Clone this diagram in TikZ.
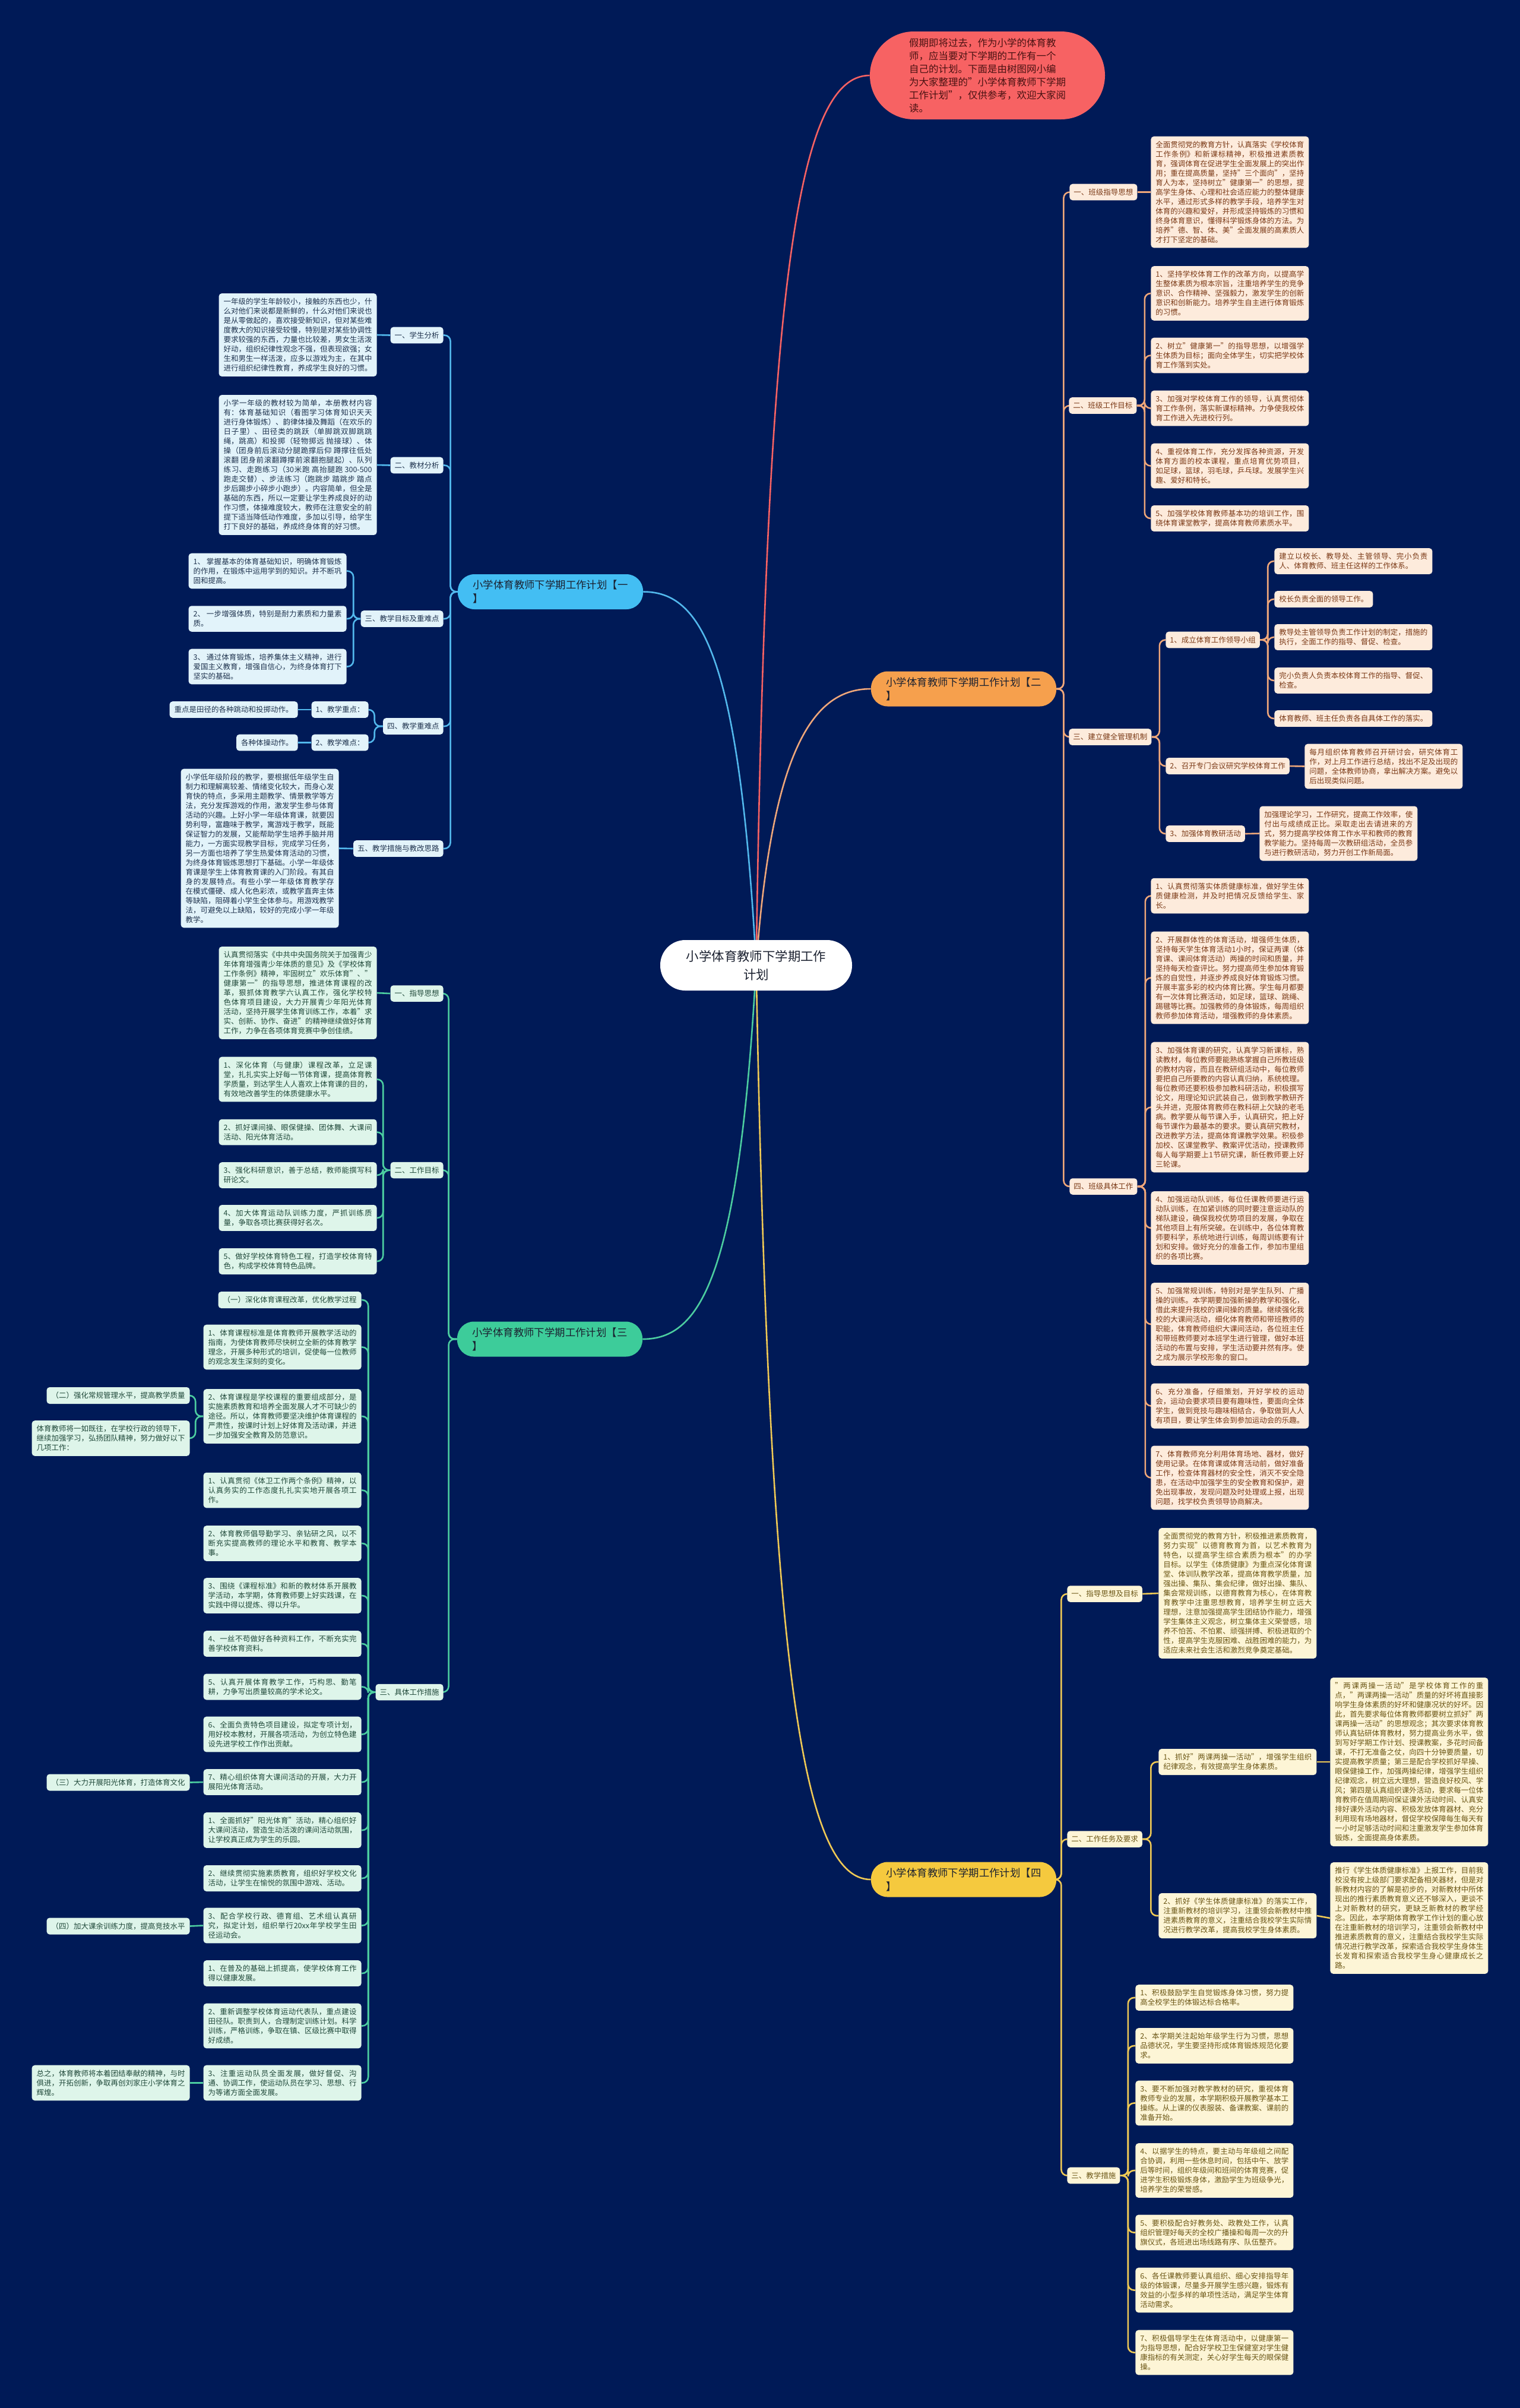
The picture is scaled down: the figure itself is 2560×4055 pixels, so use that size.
\documentclass[tikz,border=0pt]{standalone}
\usepackage{fontspec}
\setmainfont{Noto Sans CJK SC}
\XeTeXlinebreaklocale "zh"
\XeTeXlinebreakskip=0pt plus 1pt
\usetikzlibrary{backgrounds}
\definecolor{bg}{HTML}{001A57}
\definecolor{blueM}{HTML}{43BEF3}
\definecolor{blueL}{HTML}{E2F3FA}
\definecolor{blueT}{HTML}{20344F}
\definecolor{blueE}{HTML}{52B8EC}
\definecolor{orM}{HTML}{F6A04D}
\definecolor{orL}{HTML}{FDEBDC}
\definecolor{orT}{HTML}{7B3A17}
\definecolor{orE}{HTML}{EFA77A}
\definecolor{grM}{HTML}{3DCC9A}
\definecolor{grL}{HTML}{DEF5EA}
\definecolor{grT}{HTML}{214A3B}
\definecolor{grE}{HTML}{4CCDA0}
\definecolor{yeM}{HTML}{F5C93E}
\definecolor{yeL}{HTML}{FDF5D6}
\definecolor{yeT}{HTML}{6B5615}
\definecolor{yeE}{HTML}{EFC955}
\definecolor{reM}{HTML}{F76263}
\definecolor{reT}{HTML}{4A1212}
\definecolor{mainT}{HTML}{1B2130}
\tikzset{
  txt/.style={font=\fontsize{6.25pt}{8pt}\selectfont, rounded corners=2.5pt, inner xsep=4pt, inner ysep=4pt},
  box/.style={txt, text width=125pt, align=justify},
  lvtwo/.style={txt, inner xsep=3.5pt},
  mainnode/.style={rounded corners=14pt, minimum width=156pt, minimum height=29.5pt, align=left, font=\fontsize{8.7pt}{11.5pt}\selectfont, inner xsep=12pt, text=mainT},
  bB/.style={fill=blueL, text=blueT},
  bO/.style={fill=orL, text=orT},
  bG/.style={fill=grL, text=grT},
  bY/.style={fill=yeL, text=yeT},
  eB/.style={draw=blueE, line width=1.3pt, rounded corners=5pt},
  eO/.style={draw=orE, line width=1.3pt, rounded corners=5pt},
  eG/.style={draw=grE, line width=1.3pt, rounded corners=5pt},
  eY/.style={draw=yeE, line width=1.3pt, rounded corners=5pt},
  eR/.style={draw=reM, line width=1.3pt},
}
\begin{document}
\begin{tikzpicture}[x=0.5pt,y=-0.5pt]
\useasboundingbox (0,0) rectangle (2560,4055);
\begin{scope}[on background layer]
\fill[bg] (0,0) rectangle (2560,4055);
\end{scope}

% centre and intro
\node[fill=white, text=mainT, rounded corners=21pt, minimum width=161.5pt, minimum height=42.5pt, align=center, font=\fontsize{10.7pt}{15.5pt}\selectfont] (C) at (1273.5,1625.5) {小学体育教师下学期工作\\计划};
\node[fill=reM, text=reT, rounded corners=37pt, minimum width=198pt, minimum height=74pt, align=left, font=\fontsize{8.25pt}{11pt}\selectfont] (R) at (1663,127) {假期即将过去，作为小学的体育教\\师，应当要对下学期的工作有一个\\自己的计划。下面是由树图网小编\\为大家整理的"小学体育教师下学期\\工作计划"，仅供参考，欢迎大家阅\\读。};

% main branches
\node[mainnode, fill=blueM] (B1) at (927,996.5) {小学体育教师下学期工作计划【一\\】};
\node[mainnode, fill=orM] (O) at (1623,1160) {小学体育教师下学期工作计划【二\\】};
\node[mainnode, fill=grM] (G) at (926,2255) {小学体育教师下学期工作计划【三\\】};
\node[mainnode, fill=yeM] (Y) at (1623,3165) {小学体育教师下学期工作计划【四\\】};

% ===== Blue branch =====
\node[lvtwo,bB,anchor=east] (b1) at (747,564.5) {一、学生分析};
\node[box,bB,anchor=east] (b1c) at (635,564) {一年级的学生年龄较小，接触的东西也少，什么对他们来说都是新鲜的，什么对他们来说也是从零做起的，喜欢接受新知识，但对某些难度教大的知识接受较慢，特别是对某些协调性要求较强的东西，力量也比较差，男女生活泼好动，组织纪律性观念不强，但表现欲强；女生和男生一样活泼，应多以游戏为主，在其中进行组织纪律性教育，养成学生良好的习惯。};
\node[lvtwo,bB,anchor=east] (b2) at (747,783.5) {二、教材分析};
\node[box,bB,anchor=east] (b2c) at (635,783) {小学一年级的教材较为简单，本册教材内容有：体育基础知识（看图学习体育知识天天进行身体锻炼）、韵律体操及舞蹈（在欢乐的日子里）、田径类的跳跃（单脚跳双脚跳跳绳，跳高）和投掷（轻物掷远 抛接球）、体操（团身前后滚动分腿跪撑后仰 蹲撑往低处滚翻 团身前滚翻蹲撑前滚翻抱腿起）、队列练习、走跑练习（30米跑 高抬腿跑 300-500跑走交替）、步法练习（跑跳步 踏跳步 踏点步后踢步小碎步小跑步）。内容简单，但全是基础的东西，所以一定要让学生养成良好的动作习惯，体操难度较大，教师在注意安全的前提下适当降低动作难度，多加以引导，给学生打下良好的基础，养成终身体育的好习惯。};
\node[lvtwo,bB,anchor=east] (b3) at (747,1042) {三、教学目标及重难点};
\node[box,bB,anchor=east] (b31) at (584,961.5) {1、 掌握基本的体育基础知识，明确体育锻炼的作用，在锻炼中运用学到的知识。并不断巩固和提高。};
\node[box,bB,anchor=east] (b32) at (584,1042) {2、 一步增强体质，特别是耐力素质和力量素质。};
\node[box,bB,anchor=east] (b33) at (584,1122.5) {3、 通过体育锻炼，培养集体主义精神，进行爱国主义教育，增强自信心，为终身体育打下坚实的基础。};
\node[lvtwo,bB,anchor=east] (b4) at (747,1223) {四、教学重难点};
\node[lvtwo,bB,anchor=east] (b41) at (621,1195) {1、教学重点：};
\node[txt,bB,anchor=east] (b41c) at (502,1195) {重点是田径的各种跳动和投掷动作。};
\node[lvtwo,bB,anchor=east] (b42) at (621,1250.5) {2、教学难点：};
\node[txt,bB,anchor=east] (b42c) at (502,1250.5) {各种体操动作。};
\node[lvtwo,bB,anchor=east] (b5) at (747,1429) {五、教学措施与教改思路};
\node[box,bB,anchor=east] (b5c) at (571,1428.5) {小学低年级阶段的教学，要根据低年级学生自制力和理解离较差、情绪变化较大，而身心发育快的特点，多采用主题教学、情景教学等方法，充分发挥游戏的作用，激发学生参与体育活动的兴趣。上好小学一年级体育课，就要因势利导，富趣味于教学，寓游戏于教学，既能保证智力的发展，又能帮助学生培养手脑并用能力，一方面实现教学目标，完成学习任务，另一方面也培养了学生热爱体育活动的习惯，为终身体育锻炼思想打下基础。小学一年级体育课是学生上体育教育课的入门阶段。有其自身的发展特点。有些小学一年级体育教学存在模式僵硬、成人化色彩浓，或教学直奔主体等缺陷，阻碍着小学生全体参与。用游戏教学法，可避免以上缺陷，较好的完成小学一年级教学。};

% ===== Orange branch =====
\node[lvtwo,bO,anchor=west] (o1) at (1801,323.5) {一、班级指导思想};
\node[box,bO,anchor=west] (o1c) at (1938,323.5) {全面贯彻党的教育方针，认真落实《学校体育工作条例》和新课标精神，积极推进素质教育，强调体育在促进学生全面发展上的突出作用；重在提高质量，坚持"三个面向"，坚持育人为本，坚持树立"健康第一"的思想，提高学生身体、心理和社会适应能力的整体健康水平，通过形式多样的教学手段，培养学生对体育的兴趣和爱好，并形成坚持锻炼的习惯和终身体育意识，懂得科学锻炼身体的方法。为培养"德、智、体、美"全面发展的高素质人才打下坚定的基础。};
\node[lvtwo,bO,anchor=west] (o2) at (1800,683) {二、班级工作目标};
\node[box,bO,anchor=west] (o21) at (1938,494) {1、坚持学校体育工作的改革方向，以提高学生整体素质为根本宗旨，注重培养学生的竞争意识、合作精神、坚强毅力，激发学生的创新意识和创新能力。培养学生自主进行体育锻炼的习惯。};
\node[box,bO,anchor=west] (o22) at (1938,598.5) {2、树立"健康第一"的指导思想，以增强学生体质为目标；面向全体学生，切实把学校体育工作落到实处。};
\node[box,bO,anchor=west] (o23) at (1938,687.5) {3、加强对学校体育工作的领导，认真贯彻体育工作条例，落实新课标精神。力争使我校体育工作进入先进校行列。};
\node[box,bO,anchor=west] (o24) at (1938,784.5) {4、重视体育工作，充分发挥各种资源，开发体育方面的校本课程，重点培育优势项目，如足球，篮球，羽毛球，乒乓球。发展学生兴趣、爱好和特长。};
\node[box,bO,anchor=west] (o25) at (1938,873) {5、加强学校体育教师基本功的培训工作，围绕体育课堂教学，提高体育教师素质水平。};
\node[lvtwo,bO,anchor=west] (o3) at (1800,1241) {三、建立健全管理机制};
\node[lvtwo,bO,anchor=west] (o31) at (1963,1077.5) {1、成立体育工作领导小组};
\node[box,bO,anchor=west] (o311) at (2146,945) {建立以校长、教导处、主管领导、完小负责人、体育教师、班主任这样的工作体系。};
\node[txt,bO,anchor=west] (o312) at (2146,1009) {校长负责全面的领导工作。};
\node[box,bO,anchor=west] (o313) at (2146,1073) {教导处主管领导负责工作计划的制定，措施的执行，全面工作的指导、督促、检查。};
\node[box,bO,anchor=west] (o314) at (2146,1146) {完小负责人负责本校体育工作的指导、督促、检查。};
\node[txt,bO,anchor=west] (o315) at (2146,1210) {体育教师、班主任负责各自具体工作的落实。};
\node[lvtwo,bO,anchor=west] (o32) at (1963,1290) {2、召开专门会议研究学校体育工作};
\node[box,bO,anchor=west] (o32c) at (2197,1290.5) {每月组织体育教师召开研讨会，研究体育工作，对上月工作进行总结，找出不足及出现的问题，全体教师协商，拿出解决方案。避免以后出现类似问题。};
\node[lvtwo,bO,anchor=west] (o33) at (1963,1404) {3、加强体育教研活动};
\node[box,bO,anchor=west] (o33c) at (2121,1403.5) {加强理论学习，工作研究，提高工作效率，使付出与成绩成正比。采取走出去请进来的方式，努力提高学校体育工作水平和教师的教育教学能力。坚持每周一次教研组活动，全员参与进行教研活动，努力开创工作新局面。};
\node[lvtwo,bO,anchor=west] (o4) at (1801,1998) {四、班级具体工作};
\node[box,bO,anchor=west] (o41) at (1938,1508.5) {1、认真贯彻落实体质健康标准，做好学生体质健康检测，并及时把情况反馈给学生、家长。};
\node[box,bO,anchor=west] (o42) at (1938,1646.5) {2、开展群体性的体育活动，增强师生体质，坚持每天学生体育活动1小时，保证两课（体育课、课间体育活动）两操的时间和质量，并坚持每天检查评比。努力提高师生参加体育锻炼的自觉性，并逐步养成良好体育锻炼习惯。开展丰富多彩的校内体育比赛。学生每月都要有一次体育比赛活动，如足球，篮球、跳绳、踢毽等比赛。加强教师的身体锻炼，每周组织教师参加体育活动，增强教师的身体素质。};
\node[box,bO,anchor=west] (o43) at (1938,1864.5) {3、加强体育课的研究，认真学习新课标，熟读教材，每位教师要能熟练掌握自己所教班级的教材内容，而且在教研组活动中，每位教师要把自己所要教的内容认真归纳，系统梳理。每位教师还要积极参加教科研活动，积极撰写论文，用理论知识武装自己，做到教学教研齐头并进，克服体育教师在教科研上欠缺的老毛病。教学要从每节课入手，认真研究，把上好每节课作为最基本的要求。要认真研究教材，改进教学方法，提高体育课教学效果。积极参加校、区课堂教学、教案评优活动，授课教师每人每学期要上1节研究课，新任教师要上好三轮课。};
\node[box,bO,anchor=west] (o44) at (1938,2068) {4、加强运动队训练，每位任课教师要进行运动队训练，在加紧训练的同时要注意运动队的梯队建设，确保我校优势项目的发展，争取在其他项目上有所突破。在训练中，各位体育教师要科学，系统地进行训练，每周训练要有计划和安排。做好充分的准备工作，参加市里组织的各项比赛。};
\node[box,bO,anchor=west] (o45) at (1938,2230) {5、加强常规训练，特别对是学生队列、广播操的训练。本学期要加强新操的教学和强化，借此来提升我校的课间操的质量。继续强化我校的大课间活动，细化体育教师和带班教师的职能，体育教师组织大课间活动，各位班主任和带班教师要对本班学生进行管理，做好本班活动的布置与安排，学生活动要井然有序。使之成为展示学校形象的窗口。};
\node[box,bO,anchor=west] (o46) at (1938,2367.5) {6、充分准备，仔细策划，开好学校的运动会，运动会要求项目要有趣味性，要面向全体学生，做到竞技与趣味相结合，争取做到人人有项目，要让学生体会到参加运动会的乐趣。};
\node[box,bO,anchor=west] (o47) at (1938,2488.5) {7、体育教师充分利用体育场地、器材，做好使用记录。在体育课或体育活动前，做好准备工作，检查体育器材的安全性，消灭不安全隐患，在活动中加强学生的安全教育和保护，避免出现事故，发现问题及时处理或上报，出现问题，找学校负责领导协商解决。};

% ===== Green branch =====
\node[lvtwo,bG,anchor=east] (g1) at (747,1673) {一、指导思想};
\node[box,bG,anchor=east] (g1c) at (635,1672) {认真贯彻落实《中共中央国务院关于加强青少年体育增强青少年体质的意见》及《学校体育工作条例》精神，牢固树立"欢乐体育"、"健康第一"的指导思想，推进体育课程的改革，狠抓体育教学六认真工作，强化学校特色体育项目建设，大力开展青少年阳光体育活动，坚持开展学生体育训练工作，本着"求实、创新、协作、奋进"的精神继续做好体育工作，力争在各项体育竞赛中争创佳绩。};
\node[lvtwo,bG,anchor=east] (g2) at (747,1970.5) {二、工作目标};
\node[box,bG,anchor=east] (g21) at (635,1817.5) {1、深化体育（与健康）课程改革，立足课堂，扎扎实实上好每一节体育课，提高体育教学质量，到达学生人人喜欢上体育课的目的，有效地改善学生的体质健康水平。};
\node[box,bG,anchor=east] (g22) at (635,1906.5) {2、抓好课间操、眼保健操、团体舞、大课间活动、阳光体育活动。};
\node[box,bG,anchor=east] (g23) at (635,1979) {3、强化科研意识，善于总结，教师能撰写科研论文。};
\node[box,bG,anchor=east] (g24) at (635,2051) {4、加大体育运动队训练力度，严抓训练质量，争取各项比赛获得好名次。};
\node[box,bG,anchor=east] (g25) at (635,2124) {5、做好学校体育特色工程，打造学校体育特色，构成学校体育特色品牌。};
\node[lvtwo,bG,anchor=east] (g3) at (747,2849.5) {三、具体工作措施};
\node[txt,bG,anchor=east] (g30) at (609,2189) {（一）深化体育课程改革，优化教学过程};
\node[box,bG,anchor=east] (g31) at (609,2268.5) {1、体育课程标准是体育教师开展教学活动的指南，为使体育教师尽快树立全新的体育教学理念，开展多种形式的培训，促使每一位教师的观念发生深刻的变化。};
\node[box,bG,anchor=east] (g32) at (609,2385) {2、体育课程是学校课程的重要组成部分，是实施素质教育和培养全面发展人才不可缺少的途径。所以，体育教师要坚决维护体育课程的严肃性，按课时计划上好体育及活动课，并进一步加强安全教育及防范意识。};
\node[box,bG,anchor=east] (g33) at (609,2509.5) {1、认真贯彻《体卫工作两个条例》精神，以认真务实的工作态度扎扎实实地开展各项工作。};
\node[box,bG,anchor=east] (g34) at (609,2599) {2、体育教师倡导勤学习、亲钻研之风，以不断充实提高教师的理论水平和教育、教学本事。};
\node[box,bG,anchor=east] (g35) at (609,2687) {3、围绕《课程标准》和新的教材体系开展教学活动，本学期，体育教师要上好实践课，在实践中得以提炼、得以升华。};
\node[box,bG,anchor=east] (g36) at (609,2768) {4、一丝不苟做好各种资料工作，不断充实完善学校体育资料。};
\node[box,bG,anchor=east] (g37) at (609,2840.5) {5、认真开展体育教学工作，巧构思、勤笔耕，力争写出质量较高的学术论文。};
\node[box,bG,anchor=east] (g38) at (609,2920.5) {6、全面负责特色项目建设，拟定专项计划，用好校本教材，开展各项活动，为创立特色建设先进学校工作作出贡献。};
\node[box,bG,anchor=east] (g39) at (609,3001) {7、精心组织体育大课间活动的开展，大力开展阳光体育活动。};
\node[box,bG,anchor=east] (g3a) at (609,3082) {1、全面抓好"阳光体育"活动，精心组织好大课间活动，营造生动活泼的课间活动氛围，让学校真正成为学生的乐园。};
\node[box,bG,anchor=east] (g3b) at (609,3163) {2、继续贯彻实施素质教育，组织好学校文化活动，让学生在愉悦的氛围中游戏、活动。};
\node[box,bG,anchor=east] (g3c) at (609,3242.5) {3、配合学校行政、德育组、艺术组认真研究，拟定计划，组织举行20xx年学校学生田径运动会。};
\node[box,bG,anchor=east] (g3d) at (609,3323) {1、在普及的基础上抓提高，使学校体育工作得以健康发展。};
\node[box,bG,anchor=east] (g3e) at (609,3411.5) {2、重新调整学校体育运动代表队，重点建设田径队。职责到人，合理制定训练计划。科学训练，严格训练，争取在镇、区级比赛中取得好成绩。};
\node[box,bG,anchor=east] (g3f) at (609,3507.5) {3、注重运动队员全面发展，做好督促、沟通、协调工作，使运动队员在学习、思想、行为等诸方面全面发展。};
\node[txt,bG,anchor=east] (g32a) at (320,2350) {（二）强化常规管理水平，提高教学质量};
\node[box,bG,anchor=east] (g32b) at (320,2422) {体育教师将一如既往，在学校行政的领导下，继续加强学习，弘扬团队精神，努力做好以下几项工作：};
\node[txt,bG,anchor=east] (g39a) at (320,3001.5) {（三）大力开展阳光体育，打造体育文化};
\node[txt,bG,anchor=east] (g3ca) at (320,3243.5) {（四）加大课余训练力度，提高竞技水平};
\node[box,bG,anchor=east] (g3fa) at (320,3507.5) {总之，体育教师将本着团结奉献的精神，与时俱进，开拓创新，争取再创刘家庄小学体育之辉煌。};

% ===== Yellow branch =====
\node[lvtwo,bY,anchor=west] (y1) at (1797,2684) {一、指导思想及目标};
\node[box,bY,anchor=west] (y1c) at (1951,2683) {全面贯彻党的教育方针，积极推进素质教育，努力实现"以德育教育为首，以艺术教育为特色，以提高学生综合素质为根本"的办学目标。以学生《体质健康》为重点深化体育课堂、体训队教学改革，提高体育教学质量，加强出操、集队、集会纪律，做好出操、集队、集会常规训练，以德育教育为核心，在体育教育教学中注重思想教育，培养学生树立远大理想，注意加强提高学生团结协作能力，增强学生集体主义观念，树立集体主义荣誉感，培养不怕苦、不怕累、顽强拼搏、积极进取的个性，提高学生克服困难、战胜困难的能力，为适应未来社会生活和激烈竞争奠定基础。};
\node[lvtwo,bY,anchor=west] (y2) at (1797,3097) {二、工作任务及要求};
\node[box,bY,anchor=west] (y21) at (1951,2967) {1、抓好"两课两操一活动"，增强学生组织纪律观念，有效提高学生身体素质。};
\node[box,bY,anchor=west] (y21c) at (2240,2967) {"两课两操一活动"是学校体育工作的重点，"两课两操一活动"质量的好坏将直接影响学生身体素质的好坏和健康况状的好坏。因此，首先要求每位体育教师都要树立抓好"两课两操一活动"的思想观念；其次要求体育教师认真钻研体育教材，努力提高业务水平，做到写好学期工作计划、授课教案，多花时间备课，不打无准备之仗，向四十分钟要质量，切实提高教学质量；第三是配合学校抓好早操、眼保健操工作，加强两操纪律，增强学生组织纪律观念，树立远大理想，营造良好校风、学风；第四是认真组织课外活动，要求每一位体育教师在值周期间保证课外活动时间、认真安排好课外活动内容、积极发放体育器材、充分利用现有场地器材，督促学校保障每生每天有一小时足够活动时间和注重激发学生参加体育锻炼，全面提高身体素质。};
\node[box,bY,anchor=west] (y22) at (1951,3226) {2、抓好《学生体质健康标准》的落实工作，注重新教材的培训学习，注重领会新教材中推进素质教育的意义，注重结合我校学生实际情况进行教学改革，提高我校学生身体素质。};
\node[box,bY,anchor=west] (y22c) at (2240,3230) {推行《学生体质健康标准》上报工作，目前我校没有按上级部门要求配备相关器材，但是对新教材内容的了解是初步的，对新教材中所体现出的推行素质教育意义还不够深入，更谈不上对新教材的研究，更缺乏新教材的教学经念。因此，本学期体育教学工作计划的重心放在注重新教材的培训学习，注重领会新教材中推进素质教育的意义，注重结合我校学生实际情况进行教学改革，探索适合我校学生身体生长发育和探索适合我校学生身心健康成长之路。};
\node[lvtwo,bY,anchor=west] (y3) at (1797,3663.5) {三、教学措施};
\node[box,bY,anchor=west] (y31) at (1912,3364) {1、积极鼓励学生自觉锻炼身体习惯，努力提高全校学生的体锻达标合格率。};
\node[box,bY,anchor=west] (y32) at (1912,3445) {2、本学期关注起始年级学生行为习惯，思想品德状况，学生要坚持形成体育锻炼规范化要求。};
\node[box,bY,anchor=west] (y33) at (1912,3541.5) {3、要不断加强对教学教材的研究，重视体育教师专业的发展，本学期积极开展教学基本工操练。从上课的仪表服装、备课教案、课前的准备开始。};
\node[box,bY,anchor=west] (y34) at (1912,3655) {4、以据学生的特点，要主动与年级组之间配合协调，利用一些休息时间，包括中午、放学后等时间，组织年级间和班间的体育竞赛，促进学生积极锻炼身体，激励学生为班级争光，培养学生的荣誉感。};
\node[box,bY,anchor=west] (y35) at (1912,3759.5) {5、要积极配合好教务处、政教处工作，认真组织管理好每天的全校广播操和每周一次的升旗仪式，各班进出场线路有序、队伍整齐。};
\node[box,bY,anchor=west] (y36) at (1912,3856.5) {6、各任课教师要认真组织、细心安排指导年级的体锻课，尽量多开展学生感兴趣，锻炼有效益的小型多样的单项性活动，满足学生体育活动需求。};
\node[box,bY,anchor=west] (y37) at (1912,3961.5) {7、积极倡导学生在体育活动中，以健康第一为指导思想，配合好学校卫生保健室对学生健康指标的有关测定，关心好学生每天的眼保健操。};

% ===== connectors =====
\begin{scope}[on background layer]
\draw[eR] (C.center) .. controls (1290,500) and (1340,127) .. (R.west);
\draw[eB] (C.center) .. controls (1245,1100) and (1180,996.5) .. (B1.east);
\draw[eO] (C.center) .. controls (1300,1260) and (1370,1160) .. (O.west);
\draw[eG] (C.center) .. controls (1245,2150) and (1180,2255) .. (G.east);
\draw[eY] (C.center) .. controls (1295,2800) and (1350,3165) .. (Y.west);

\foreach \n in {b1,b2,b3,b4,b5} \draw[eB] (B1.west) -- ++(-12,0) |- (\n.east);
\draw[eB] (b1.west) -- (b1c.east);
\draw[eB] (b2.west) -- (b2c.east);
\foreach \n in {b31,b32,b33} \draw[eB] (b3.west) -- ++(-12,0) |- (\n.east);
\foreach \n in {b41,b42} \draw[eB] (b4.west) -- ++(-14,0) |- (\n.east);
\draw[eB] (b41.west) -- (b41c.east);
\draw[eB] (b42.west) -- (b42c.east);
\draw[eB] (b5.west) -- (b5c.east);

\foreach \n in {o1,o2,o3,o4} \draw[eO] (O.east) -- ++(12,0) |- (\n.west);
\draw[eO] (o1.east) -- (o1c.west);
\foreach \n in {o21,o22,o23,o24,o25} \draw[eO] (o2.east) -- ++(13,0) |- (\n.west);
\foreach \n in {o31,o32,o33} \draw[eO] (o3.east) -- ++(13,0) |- (\n.west);
\foreach \n in {o311,o312,o313,o314,o315} \draw[eO] (o31.east) -- ++(13,0) |- (\n.west);
\draw[eO] (o32.east) -- (o32c.west);
\draw[eO] (o33.east) -- (o33c.west);
\foreach \n in {o41,o42,o43,o44,o45,o46,o47} \draw[eO] (o4.east) -- ++(13,0) |- (\n.west);

\foreach \n in {g1,g2,g3} \draw[eG] (G.west) -- ++(-14,0) |- (\n.east);
\draw[eG] (g1.west) -- (g1c.east);
\foreach \n in {g21,g22,g23,g24,g25} \draw[eG] (g2.west) -- ++(-12,0) |- (\n.east);
\foreach \n in {g30,g31,g32,g33,g34,g35,g36,g37,g38,g39,g3a,g3b,g3c,g3d,g3e,g3f} \draw[eG] (g3.west) -- ++(-12,0) |- (\n.east);
\foreach \n in {g32a,g32b} \draw[eG] (g32.west) -- ++(-13,0) |- (\n.east);
\draw[eG] (g39.west) -- (g39a.east);
\draw[eG] (g3c.west) -- (g3ca.east);
\draw[eG] (g3f.west) -- (g3fa.east);

\foreach \n in {y1,y2,y3} \draw[eY] (Y.east) -- ++(8,0) |- (\n.west);
\draw[eY] (y1.east) -- (y1c.west);
\foreach \n in {y21,y22} \draw[eY] (y2.east) -- ++(14,0) |- (\n.west);
\draw[eY] (y21.east) -- (y21c.west);
\draw[eY] (y22.east) -- (y22c.west);
\foreach \n in {y31,y32,y33,y34,y35,y36,y37} \draw[eY] (y3.east) -- ++(13,0) |- (\n.west);
\end{scope}
\end{tikzpicture}
\end{document}
